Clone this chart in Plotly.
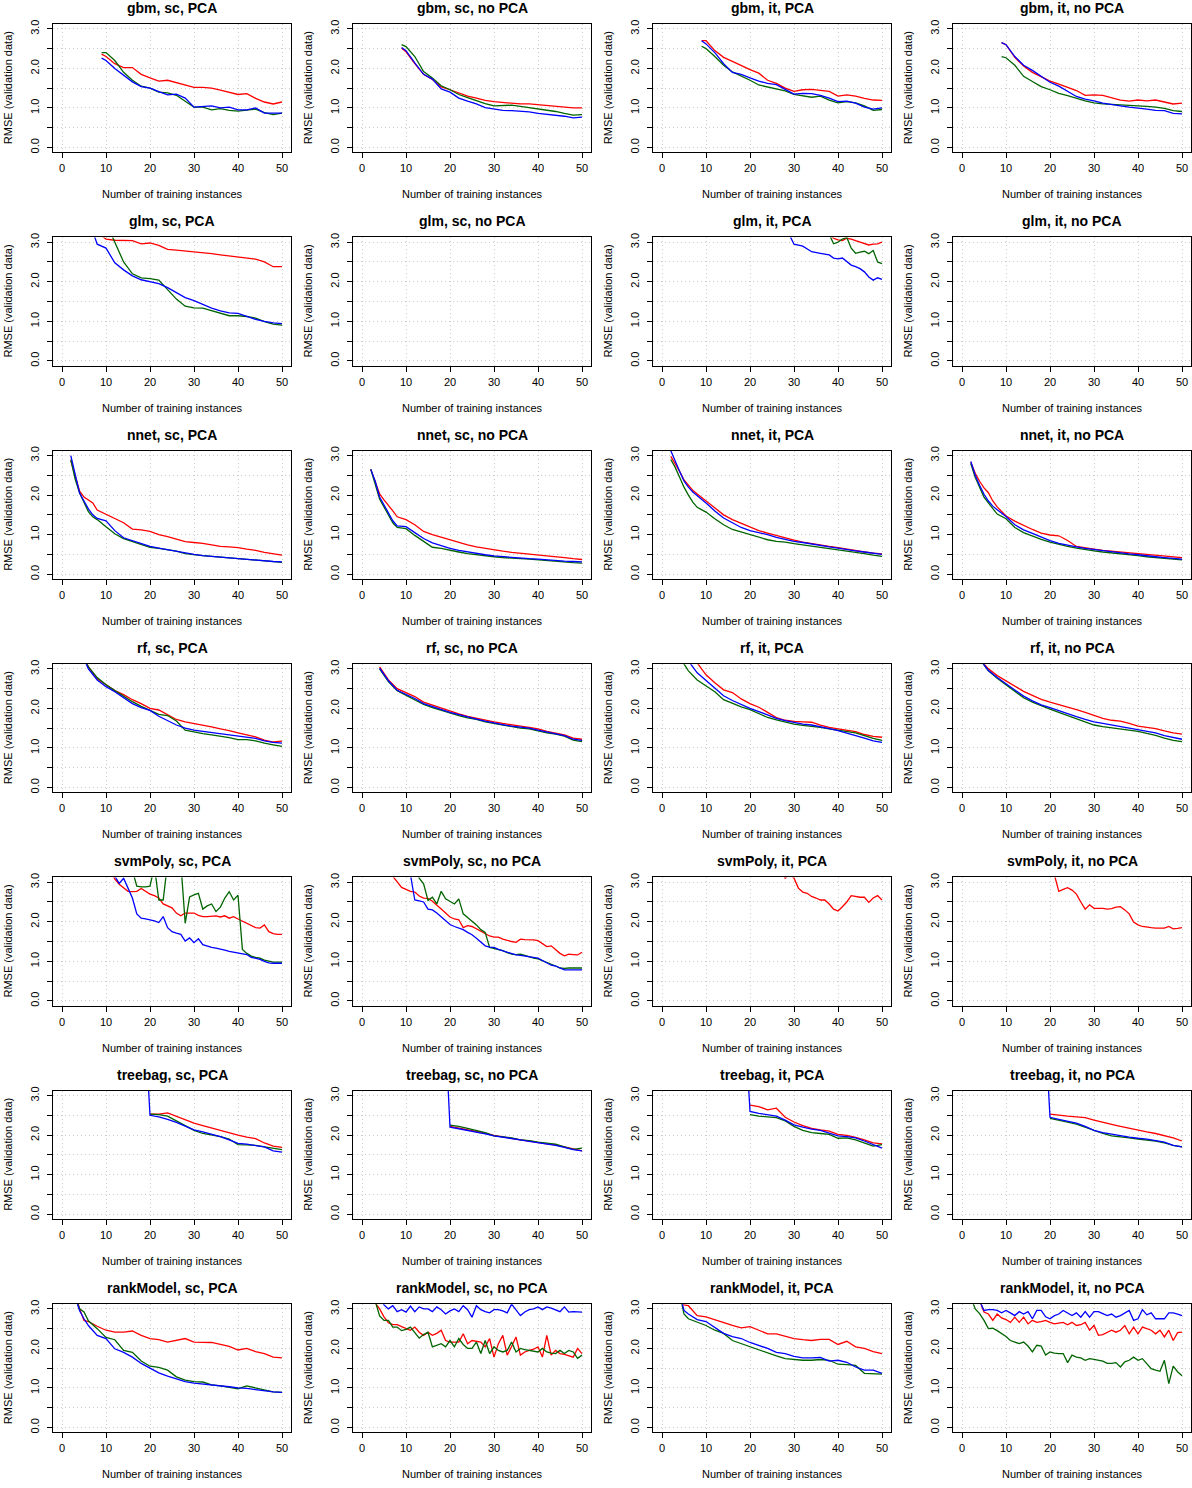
import plotly.graph_objects as go

W, H = 1192, 1488
RED, GREEN, BLUE = '#FF0000', '#006400', '#0000FF'
FONT = 'Liberation Sans, Arial, Helvetica, sans-serif'

# ---- gbm ----
gbm_x = [9, 10, 12, 14, 16, 18, 20, 22, 24, 26, 28, 30, 32, 34, 36, 38, 40, 42, 44, 46, 48, 50]
gbm_sc_pca_red = [2.36, 2.3, 2.12, 2.02, 2.02, 1.85, 1.76, 1.68, 1.7, 1.64, 1.57, 1.52, 1.52, 1.5, 1.45, 1.4, 1.34, 1.36, 1.24, 1.15, 1.1, 1.15]
gbm_sc_pca_green = [2.4, 2.4, 2.2, 1.9, 1.7, 1.55, 1.5, 1.4, 1.38, 1.32, 1.17, 1.02, 1.02, 0.95, 0.98, 0.94, 0.92, 0.95, 0.97, 0.88, 0.83, 0.87]
gbm_sc_pca_blue = [2.26, 2.2, 2.0, 1.82, 1.66, 1.54, 1.5, 1.41, 1.33, 1.35, 1.25, 1.02, 1.04, 1.05, 1.0, 1.02, 0.95, 0.95, 1.0, 0.87, 0.87, 0.87]
gbm_sc_nopca_red = [2.51, 2.42, 2.12, 1.85, 1.72, 1.53, 1.46, 1.38, 1.3, 1.25, 1.19, 1.16, 1.14, 1.12, 1.1, 1.1, 1.08, 1.06, 1.04, 1.02, 1.0, 1.0]
gbm_sc_nopca_green = [2.6, 2.55, 2.3, 1.92, 1.76, 1.56, 1.46, 1.34, 1.26, 1.18, 1.11, 1.05, 1.06, 1.07, 1.04, 1.01, 0.98, 0.94, 0.91, 0.86, 0.82, 0.83]
gbm_sc_nopca_blue = [2.53, 2.45, 2.14, 1.85, 1.73, 1.48, 1.4, 1.25, 1.17, 1.1, 1.01, 0.97, 0.94, 0.93, 0.92, 0.9, 0.86, 0.84, 0.81, 0.79, 0.75, 0.77]
gbm_it_pca_red = [2.7, 2.7, 2.45, 2.28, 2.18, 2.07, 1.97, 1.88, 1.7, 1.62, 1.5, 1.42, 1.46, 1.47, 1.44, 1.42, 1.3, 1.33, 1.3, 1.24, 1.2, 1.19]
gbm_it_pca_green = [2.56, 2.5, 2.3, 2.08, 1.91, 1.81, 1.7, 1.58, 1.53, 1.47, 1.43, 1.34, 1.31, 1.27, 1.3, 1.2, 1.13, 1.16, 1.13, 1.05, 0.94, 0.96]
gbm_it_pca_blue = [2.7, 2.62, 2.4, 2.12, 1.9, 1.85, 1.76, 1.68, 1.62, 1.59, 1.47, 1.35, 1.37, 1.36, 1.32, 1.25, 1.16, 1.17, 1.12, 1.02, 0.97, 1.0]
gbm_it_nopca_red = [2.65, 2.6, 2.28, 2.06, 1.9, 1.78, 1.68, 1.6, 1.51, 1.44, 1.32, 1.33, 1.32, 1.25, 1.2, 1.17, 1.2, 1.18, 1.2, 1.15, 1.1, 1.12]
gbm_it_nopca_green = [2.3, 2.27, 2.08, 1.8, 1.67, 1.54, 1.46, 1.37, 1.31, 1.24, 1.18, 1.13, 1.1, 1.09, 1.08, 1.07, 1.06, 1.04, 1.02, 0.99, 0.93, 0.91]
gbm_it_nopca_blue = [2.65, 2.6, 2.3, 2.08, 1.95, 1.79, 1.65, 1.55, 1.42, 1.29, 1.22, 1.18, 1.12, 1.08, 1.05, 1.02, 1.0, 0.97, 0.94, 0.93, 0.86, 0.85]

# ---- glm ----
glm_sc_x = [6, 8, 10, 12, 14, 16, 18, 20, 22, 24, 26, 28, 30, 32, 34, 36, 38, 40, 42, 44, 46, 48, 50]
glm_sc_pca_red = [3.4, 3.25, 3.08, 3.05, 3.05, 3.04, 2.96, 2.98, 2.92, 2.82, 2.8, 2.78, 2.76, 2.73, 2.71, 2.68, 2.65, 2.63, 2.6, 2.57, 2.5, 2.38, 2.38]
glm_sc_pca_green = [4.5, 4.0, 3.5, 3.0, 2.5, 2.2, 2.1, 2.08, 2.04, 1.8, 1.56, 1.38, 1.34, 1.33, 1.27, 1.2, 1.14, 1.14, 1.12, 1.08, 0.99, 0.93, 0.9]
glm_sc_pca_blue = [3.6, 2.95, 2.85, 2.48, 2.3, 2.15, 2.05, 2.0, 1.95, 1.85, 1.72, 1.6, 1.52, 1.42, 1.33, 1.26, 1.21, 1.2, 1.12, 1.05, 1.0, 0.96, 0.94]
glm_it_x = [28, 30, 32, 34, 36, 38, 39, 40, 41, 42, 43, 44, 45, 46, 47, 48, 49, 50]
glm_it_pca_red = [4.2, 4.0, 3.8, 3.6, 3.4, 3.2, 3.1, 3.06, 3.04, 3.1, 3.08, 3.04, 3.0, 2.97, 2.93, 2.95, 2.96, 3.0]
glm_it_pca_green = [4.2, 4.0, 3.8, 3.6, 3.4, 3.2, 2.96, 3.0, 3.08, 3.12, 2.85, 2.72, 2.75, 2.77, 2.71, 2.79, 2.5, 2.46]
glm_it_pca_blue = [3.4, 2.95, 2.9, 2.76, 2.72, 2.68, 2.6, 2.58, 2.6, 2.5, 2.42, 2.38, 2.33, 2.25, 2.12, 2.04, 2.1, 2.06]
# nothing of glm "no PCA" falls inside the 0-3 window
glm_nopca_x = []
glm_nopca_y = []

# ---- nnet ----
nnet_x = [2, 3, 4, 5, 6, 7, 8, 10, 12, 14, 16, 18, 20, 22, 24, 26, 28, 30, 32, 34, 36, 38, 40, 42, 44, 46, 48, 50]
nnet_sc_pca_red = [2.87, 2.49, 2.1, 1.95, 1.87, 1.8, 1.62, 1.52, 1.42, 1.3, 1.14, 1.12, 1.08, 1.0, 0.95, 0.88, 0.82, 0.8, 0.78, 0.74, 0.7, 0.69, 0.67, 0.63, 0.6, 0.55, 0.52, 0.48]
nnet_sc_pca_green = [2.9, 2.4, 2.05, 1.8, 1.58, 1.45, 1.38, 1.2, 1.02, 0.9, 0.82, 0.75, 0.68, 0.65, 0.61, 0.58, 0.52, 0.49, 0.47, 0.45, 0.43, 0.41, 0.39, 0.37, 0.35, 0.33, 0.31, 0.3]
nnet_sc_pca_blue = [3.0, 2.5, 2.05, 1.85, 1.65, 1.5, 1.41, 1.35, 1.1, 0.92, 0.84, 0.78, 0.7, 0.66, 0.62, 0.58, 0.53, 0.5, 0.47, 0.45, 0.43, 0.41, 0.39, 0.37, 0.35, 0.34, 0.32, 0.31]
nnet_sc_nopca_red = [2.65, 2.35, 2.03, 1.88, 1.75, 1.6, 1.45, 1.38, 1.25, 1.08, 1.0, 0.93, 0.86, 0.8, 0.74, 0.69, 0.65, 0.61, 0.58, 0.55, 0.53, 0.51, 0.49, 0.46, 0.44, 0.42, 0.39, 0.37]
nnet_sc_nopca_green = [2.65, 2.3, 1.9, 1.7, 1.5, 1.3, 1.18, 1.15, 0.98, 0.82, 0.68, 0.65, 0.6, 0.56, 0.52, 0.49, 0.46, 0.44, 0.42, 0.4, 0.39, 0.38, 0.36, 0.34, 0.32, 0.3, 0.29, 0.28]
nnet_sc_nopca_blue = [2.65, 2.35, 1.95, 1.75, 1.55, 1.35, 1.22, 1.2, 1.05, 0.9, 0.79, 0.71, 0.65, 0.6, 0.56, 0.52, 0.49, 0.46, 0.44, 0.42, 0.4, 0.39, 0.38, 0.36, 0.34, 0.33, 0.32, 0.31]
nnet_it_pca_red = [2.98, 2.8, 2.6, 2.38, 2.25, 2.12, 2.03, 1.86, 1.68, 1.5, 1.38, 1.28, 1.18, 1.1, 1.04, 0.98, 0.91, 0.86, 0.81, 0.77, 0.73, 0.7, 0.67, 0.63, 0.6, 0.56, 0.53, 0.51]
nnet_it_pca_green = [2.9, 2.7, 2.45, 2.2, 2.0, 1.82, 1.69, 1.57, 1.4, 1.25, 1.13, 1.06, 0.99, 0.93, 0.87, 0.83, 0.81, 0.77, 0.74, 0.71, 0.68, 0.65, 0.62, 0.59, 0.56, 0.52, 0.48, 0.45]
nnet_it_pca_blue = [3.12, 2.85, 2.6, 2.36, 2.2, 2.08, 1.99, 1.8, 1.6, 1.42, 1.3, 1.18, 1.1, 1.05, 1.0, 0.93, 0.88, 0.83, 0.8, 0.76, 0.72, 0.69, 0.66, 0.62, 0.59, 0.56, 0.53, 0.5]
nnet_it_nopca_red = [2.83, 2.55, 2.35, 2.18, 2.06, 1.85, 1.7, 1.47, 1.34, 1.23, 1.13, 1.04, 0.99, 0.97, 0.85, 0.7, 0.66, 0.63, 0.6, 0.58, 0.56, 0.53, 0.51, 0.49, 0.48, 0.46, 0.44, 0.42]
nnet_it_nopca_green = [2.8, 2.45, 2.2, 1.95, 1.8, 1.65, 1.52, 1.4, 1.18, 1.05, 0.96, 0.88, 0.81, 0.75, 0.7, 0.66, 0.62, 0.59, 0.56, 0.54, 0.52, 0.49, 0.47, 0.44, 0.42, 0.4, 0.38, 0.36]
nnet_it_nopca_blue = [2.85, 2.5, 2.25, 2.02, 1.85, 1.72, 1.63, 1.46, 1.25, 1.12, 1.03, 0.93, 0.85, 0.78, 0.73, 0.69, 0.65, 0.62, 0.59, 0.56, 0.54, 0.51, 0.49, 0.46, 0.44, 0.42, 0.4, 0.38]

# ---- rf ----
rf_x = [4, 6, 8, 10, 12, 14, 16, 18, 20, 22, 24, 26, 28, 30, 32, 34, 36, 38, 40, 42, 44, 46, 48, 50]
rf_sc_pca_red = [3.5, 3.05, 2.75, 2.6, 2.45, 2.35, 2.22, 2.12, 2.0, 1.96, 1.85, 1.72, 1.66, 1.62, 1.58, 1.53, 1.48, 1.44, 1.38, 1.33, 1.28, 1.2, 1.15, 1.17]
rf_sc_pca_green = [3.5, 3.05, 2.78, 2.6, 2.45, 2.3, 2.17, 2.05, 1.95, 1.85, 1.82, 1.68, 1.45, 1.4, 1.36, 1.33, 1.3, 1.26, 1.21, 1.21, 1.18, 1.12, 1.08, 1.04]
rf_sc_pca_blue = [3.5, 3.0, 2.72, 2.55, 2.42, 2.28, 2.12, 2.02, 1.95, 1.8, 1.68, 1.58, 1.5, 1.45, 1.42, 1.39, 1.36, 1.33, 1.29, 1.27, 1.24, 1.18, 1.14, 1.12]
rf_sc_nopca_red = [3.05, 2.72, 2.5, 2.4, 2.3, 2.16, 2.08, 2.02, 1.93, 1.86, 1.8, 1.75, 1.7, 1.66, 1.62, 1.58, 1.55, 1.52, 1.48, 1.42, 1.38, 1.33, 1.25, 1.22]
rf_sc_nopca_green = [3.0, 2.68, 2.45, 2.34, 2.22, 2.1, 2.02, 1.95, 1.88, 1.82, 1.76, 1.72, 1.66, 1.62, 1.58, 1.53, 1.5, 1.48, 1.43, 1.38, 1.35, 1.3, 1.2, 1.16]
rf_sc_nopca_blue = [3.02, 2.7, 2.46, 2.36, 2.25, 2.12, 2.04, 1.97, 1.9, 1.84, 1.78, 1.73, 1.68, 1.63, 1.59, 1.55, 1.52, 1.5, 1.45, 1.4, 1.36, 1.31, 1.22, 1.19]
rf_it_pca_red = [4.2, 3.6, 3.15, 2.85, 2.65, 2.47, 2.4, 2.24, 2.12, 2.03, 1.9, 1.77, 1.7, 1.67, 1.66, 1.65, 1.58, 1.52, 1.48, 1.45, 1.41, 1.34, 1.29, 1.27]
rf_it_pca_green = [3.3, 2.95, 2.72, 2.57, 2.42, 2.22, 2.12, 2.04, 1.97, 1.87, 1.77, 1.71, 1.65, 1.6, 1.57, 1.55, 1.52, 1.48, 1.45, 1.41, 1.38, 1.31, 1.24, 1.19]
rf_it_pca_blue = [3.7, 3.2, 2.9, 2.7, 2.5, 2.32, 2.2, 2.09, 2.0, 1.92, 1.83, 1.75, 1.69, 1.64, 1.6, 1.58, 1.54, 1.49, 1.44, 1.38, 1.32, 1.25, 1.18, 1.14]
rf_it_nopca_red = [3.25, 3.0, 2.83, 2.7, 2.56, 2.43, 2.33, 2.23, 2.16, 2.1, 2.03, 1.97, 1.9, 1.83, 1.75, 1.7, 1.68, 1.62, 1.55, 1.52, 1.49, 1.43, 1.38, 1.35]
rf_it_nopca_green = [3.25, 2.95, 2.76, 2.6, 2.44, 2.27, 2.16, 2.06, 1.98, 1.9, 1.82, 1.72, 1.65, 1.58, 1.54, 1.51, 1.49, 1.46, 1.42, 1.37, 1.32, 1.25, 1.19, 1.16]
rf_it_nopca_blue = [3.25, 2.96, 2.78, 2.63, 2.48, 2.31, 2.19, 2.09, 2.02, 1.94, 1.87, 1.79, 1.72, 1.66, 1.62, 1.58, 1.55, 1.5, 1.46, 1.42, 1.38, 1.31, 1.26, 1.22]

# ---- svmPoly ----
svm_sc_pca_x = list(range(11, 51))
svm_sc_pca_red = [3.3, 3.08, 2.95, 2.85, 2.77, 2.76, 2.77, 2.84, 2.76, 2.7, 2.66, 2.6, 2.45, 2.4, 2.35, 2.22, 2.15, 2.22, 2.22, 2.22,
                  2.16, 2.13, 2.13, 2.14, 2.15, 2.12, 2.15, 2.09, 2.13, 2.07, 2.02, 1.97, 1.9, 1.85, 1.84, 1.92, 1.75, 1.7, 1.68, 1.68]
svm_sc_pca_green = [4.5, 4.2, 4.0, 3.8, 3.6, 3.3, 2.9, 2.88, 2.88, 2.9, 3.4, 2.55, 2.55, 3.5, 3.6, 3.6, 3.5, 1.96, 2.63, 2.68,
                    2.72, 2.32, 2.4, 2.45, 2.26, 2.37, 2.6, 2.76, 2.55, 2.67, 1.3, 1.2, 1.13, 1.1, 1.08, 1.03, 1.0, 0.98, 0.98, 0.98]
svm_sc_pca_blue = [3.6, 3.15, 2.97, 3.1, 2.85, 2.6, 2.2, 2.09, 2.07, 2.05, 2.02, 1.98, 2.13, 1.85, 1.75, 1.71, 1.68, 1.51, 1.59, 1.47,
                   1.57, 1.42, 1.38, 1.35, 1.33, 1.31, 1.28, 1.25, 1.23, 1.22, 1.2, 1.17, 1.1, 1.08, 1.05, 1.0, 0.96, 0.95, 0.95, 0.95]
svm_sc_nopca_x = list(range(7, 51))
svm_sc_nopca_red = [3.15, 3.0, 2.87, 2.82, 2.77, 2.75, 2.65, 2.6, 2.59, 2.52, 2.43, 2.32, 2.22, 2.12, 2.07, 2.05, 1.85, 1.9, 1.88, 1.82, 1.75, 1.69,
                    1.64, 1.61, 1.61, 1.56, 1.52, 1.5, 1.48, 1.56, 1.55, 1.55, 1.54, 1.52, 1.45, 1.37, 1.39, 1.3, 1.2, 1.14, 1.18, 1.17, 1.16, 1.23]
svm_sc_nopca_green = [5.0, 4.7, 4.4, 4.1, 3.8, 3.4, 3.1, 2.96, 2.54, 2.62, 2.45, 2.77, 2.58, 2.52, 2.45, 2.58, 2.2, 2.11, 2.02, 1.92, 1.8, 1.73,
                      1.35, 1.32, 1.3, 1.27, 1.22, 1.18, 1.17, 1.18, 1.15, 1.11, 1.08, 1.06, 1.02, 0.97, 0.92, 0.88, 0.83, 0.82, 0.83, 0.83, 0.83, 0.83]
svm_sc_nopca_blue = [4.5, 4.2, 3.9, 3.6, 3.2, 2.55, 2.53, 2.5, 2.32, 2.3, 2.22, 2.12, 2.02, 1.93, 1.88, 1.84, 1.8, 1.73, 1.67, 1.58, 1.48, 1.39,
                     1.36, 1.35, 1.3, 1.26, 1.23, 1.2, 1.16, 1.15, 1.13, 1.11, 1.1, 1.08, 1.02, 0.95, 0.9, 0.88, 0.82, 0.78, 0.78, 0.78, 0.78, 0.78]
svm_it_pca_x = list(range(27, 51))
svm_it_pca_red = [3.3, 3.1, 3.2, 3.1, 2.85, 2.75, 2.72, 2.64, 2.6, 2.55, 2.55, 2.45, 2.32, 2.27, 2.38, 2.5, 2.66, 2.64, 2.62, 2.62, 2.49, 2.6, 2.66, 2.55]
svm_it_nopca_x = list(range(20, 51))
svm_it_nopca_red = [3.6, 3.2, 2.77, 2.82, 2.86, 2.8, 2.7, 2.5, 2.32, 2.43, 2.34, 2.34, 2.34, 2.32, 2.33, 2.37, 2.38, 2.3, 2.2, 1.99, 1.92,
                    1.88, 1.86, 1.85, 1.84, 1.84, 1.84, 1.88, 1.82, 1.83, 1.85]

# ---- treebag ----
tb_x = [19, 20, 22, 24, 26, 28, 30, 32, 34, 36, 38, 40, 42, 44, 46, 48, 50]
tb_sc_pca_red = [None, 2.53, 2.53, 2.56, 2.47, 2.38, 2.3, 2.24, 2.18, 2.11, 2.05, 2.0, 1.95, 1.91, 1.8, 1.72, 1.69]
tb_sc_pca_green = [None, 2.53, 2.52, 2.48, 2.36, 2.22, 2.12, 2.04, 2.0, 1.96, 1.9, 1.76, 1.75, 1.74, 1.7, 1.66, 1.63]
tb_sc_pca_blue = [4.5, 2.5, 2.46, 2.4, 2.32, 2.22, 2.13, 2.08, 2.02, 1.96, 1.88, 1.79, 1.77, 1.74, 1.7, 1.6, 1.57]
tb_sc_nopca_red = [None, 2.22, 2.18, 2.13, 2.1, 2.05, 1.99, 1.95, 1.92, 1.88, 1.85, 1.81, 1.78, 1.75, 1.7, 1.64, 1.6]
tb_sc_nopca_green = [None, 2.25, 2.22, 2.17, 2.12, 2.06, 1.98, 1.96, 1.93, 1.88, 1.86, 1.82, 1.79, 1.77, 1.7, 1.64, 1.67]
tb_sc_nopca_blue = [4.5, 2.2, 2.16, 2.12, 2.08, 2.03, 1.98, 1.95, 1.92, 1.88, 1.84, 1.81, 1.78, 1.74, 1.69, 1.63, 1.6]
tb_it_pca_red = [None, 2.76, 2.72, 2.64, 2.68, 2.45, 2.33, 2.24, 2.17, 2.13, 2.1, 2.02, 1.99, 1.94, 1.88, 1.8, 1.78]
tb_it_pca_green = [None, 2.52, 2.48, 2.46, 2.44, 2.36, 2.22, 2.12, 2.06, 2.04, 2.02, 1.92, 1.93, 1.88, 1.8, 1.72, 1.76]
tb_it_pca_blue = [4.5, 2.6, 2.55, 2.52, 2.48, 2.38, 2.26, 2.2, 2.15, 2.12, 2.04, 1.98, 1.96, 1.93, 1.85, 1.76, 1.67]
tb_it_nopca_red = [None, 2.53, 2.5, 2.48, 2.46, 2.44, 2.38, 2.32, 2.27, 2.22, 2.17, 2.12, 2.08, 2.04, 1.98, 1.93, 1.85]
tb_it_nopca_green = [None, 2.42, 2.38, 2.33, 2.28, 2.2, 2.1, 2.04, 1.98, 1.96, 1.93, 1.9, 1.88, 1.85, 1.8, 1.74, 1.7]
tb_it_nopca_blue = [4.5, 2.45, 2.4, 2.35, 2.3, 2.22, 2.12, 2.06, 2.02, 1.99, 1.95, 1.92, 1.9, 1.86, 1.82, 1.74, 1.7]

# ---- rankModel ----
rm_sc_pca_x = [3, 4, 5, 6, 8, 10, 12, 14, 16, 18, 20, 22, 24, 26, 28, 30, 32, 34, 36, 38, 40, 42, 44, 46, 48, 50]
rm_sc_pca_red = [3.4, 3.0, 2.71, 2.68, 2.56, 2.46, 2.41, 2.41, 2.44, 2.33, 2.25, 2.22, 2.16, 2.2, 2.25, 2.16, 2.15, 2.15, 2.1, 2.05, 1.96, 2.0, 1.92, 1.87, 1.78, 1.76]
rm_sc_pca_green = [3.3, 3.0, 2.92, 2.7, 2.5, 2.28, 2.22, 1.95, 1.9, 1.68, 1.55, 1.52, 1.45, 1.28, 1.2, 1.16, 1.15, 1.08, 1.05, 1.02, 0.98, 1.05, 1.0, 0.95, 0.9, 0.89]
rm_sc_pca_blue = [3.3, 2.95, 2.75, 2.58, 2.33, 2.25, 1.99, 1.9, 1.78, 1.62, 1.5, 1.38, 1.3, 1.22, 1.16, 1.12, 1.1, 1.07, 1.05, 1.03, 1.0, 0.99, 0.96, 0.93, 0.9, 0.89]
rm_sc_nopca_x = list(range(3, 51))
rm_sc_nopca_red = [3.15, 3.0, 2.8, 2.65, 2.6, 2.6, 2.55, 2.5, 2.46, 2.54, 2.41, 2.33, 2.41, 2.33, 2.38, 2.46, 2.2, 2.16, 2.16, 2.16, 2.37, 2.12, 2.2, 2.18,
                   2.16, 2.04, 2.25, 1.78, 2.12, 2.33, 1.83, 2.05, 2.29, 1.83, 1.91, 1.95, 1.98, 2.04, 1.78, 2.33, 1.83, 1.95, 1.87, 1.85, 1.82, 1.78, 2.0, 1.87]
rm_sc_nopca_green = [3.2, 2.82, 2.71, 2.71, 2.54, 2.54, 2.45, 2.48, 2.54, 2.41, 2.26, 2.35, 2.41, 2.04, 2.08, 2.12, 2.04, 2.2, 2.04, 2.25, 2.1, 2.0, 2.0, 2.16,
                     1.87, 2.2, 1.87, 2.04, 1.95, 1.91, 1.95, 2.16, 1.91, 2.0, 1.97, 1.95, 1.92, 1.91, 2.0, 1.91, 1.88, 1.87, 1.95, 1.87, 1.95, 1.91, 1.75, 1.83]
rm_sc_nopca_blue = [3.5, 3.3, 3.1, 3.0, 3.08, 2.93, 2.98, 2.92, 3.07, 2.93, 3.05, 3.0, 3.0, 2.93, 3.05, 2.98, 2.87, 2.95, 3.0, 2.93, 3.08, 2.98, 2.79, 3.08,
                    2.98, 2.93, 2.9, 2.98, 2.98, 2.95, 2.9, 3.12, 2.98, 2.83, 2.92, 2.98, 3.0, 3.05, 2.98, 3.05, 3.02, 2.98, 2.93, 3.05, 2.92, 2.93, 2.93, 2.92]
rm_it_pca_x = [4, 5, 6, 8, 10, 12, 14, 16, 18, 20, 22, 24, 26, 28, 30, 32, 34, 36, 38, 40, 42, 44, 46, 48, 50]
rm_it_pca_red = [3.4, 3.1, 3.08, 2.83, 2.8, 2.72, 2.65, 2.58, 2.52, 2.55, 2.46, 2.37, 2.37, 2.31, 2.25, 2.22, 2.2, 2.23, 2.23, 2.1, 2.18, 2.04, 2.0, 1.92, 1.87]
rm_it_pca_green = [3.4, 2.87, 2.75, 2.66, 2.58, 2.46, 2.38, 2.2, 2.12, 2.05, 1.95, 1.88, 1.81, 1.74, 1.72, 1.7, 1.7, 1.72, 1.7, 1.6, 1.59, 1.57, 1.37, 1.36, 1.35]
rm_it_pca_blue = [3.4, 2.96, 2.87, 2.73, 2.68, 2.52, 2.38, 2.3, 2.25, 2.15, 2.08, 2.0, 1.9, 1.87, 1.8, 1.76, 1.76, 1.77, 1.68, 1.7, 1.65, 1.53, 1.45, 1.45, 1.37]
rm_it_nopca_x = list(range(2, 51))
rm_it_nopca_red = [3.8, 3.5, 3.2, 2.92, 2.87, 2.71, 2.87, 2.77, 2.73, 2.66, 2.79, 2.66, 2.79, 2.62, 2.71, 2.66, 2.68, 2.71, 2.66, 2.62, 2.64, 2.66, 2.6, 2.66, 2.58,
                   2.6, 2.66, 2.46, 2.58, 2.33, 2.35, 2.4, 2.46, 2.41, 2.46, 2.58, 2.37, 2.54, 2.37, 2.54, 2.5, 2.46, 2.37, 2.46, 2.29, 2.46, 2.2, 2.4, 2.41]
rm_it_nopca_green = [3.3, 3.0, 2.88, 2.71, 2.5, 2.51, 2.45, 2.38, 2.3, 2.2, 2.15, 2.12, 2.16, 2.06, 1.91, 2.08, 2.06, 1.83, 1.91, 1.88, 1.87, 1.87, 1.64, 1.83, 1.78,
                     1.76, 1.7, 1.74, 1.72, 1.7, 1.68, 1.62, 1.62, 1.64, 1.53, 1.66, 1.7, 1.78, 1.7, 1.74, 1.62, 1.49, 1.45, 1.42, 1.7, 1.11, 1.55, 1.41, 1.31]
rm_it_nopca_blue = [3.8, 3.5, 3.2, 2.96, 2.98, 2.98, 2.96, 2.9, 2.96, 2.9, 2.83, 2.93, 2.87, 2.93, 2.75, 2.96, 2.96, 2.8, 2.75, 2.83, 2.87, 2.96, 2.9, 2.83, 2.9,
                    2.79, 2.93, 2.79, 2.93, 2.93, 2.88, 2.83, 2.87, 2.79, 2.83, 2.9, 2.96, 2.71, 2.75, 2.98, 2.85, 2.9, 2.75, 2.75, 2.75, 2.9, 2.9, 2.87, 2.83]

x_ticks = [0, 10, 20, 30, 40, 50]
y_ticks = [0, 0.5, 1, 1.5, 2, 2.5, 3]
y_tick_text = ['0.0', '', '1.0', '', '2.0', '', '3.0']


def trio(x, red, green, blue):
    return [(x, red, RED), (x, green, GREEN), (x, blue, BLUE)]


panels = [
    ('gbm, sc, PCA', trio(gbm_x, gbm_sc_pca_red, gbm_sc_pca_green, gbm_sc_pca_blue)),
    ('gbm, sc, no PCA', trio(gbm_x, gbm_sc_nopca_red, gbm_sc_nopca_green, gbm_sc_nopca_blue)),
    ('gbm, it, PCA', trio(gbm_x, gbm_it_pca_red, gbm_it_pca_green, gbm_it_pca_blue)),
    ('gbm, it, no PCA', trio(gbm_x, gbm_it_nopca_red, gbm_it_nopca_green, gbm_it_nopca_blue)),
    ('glm, sc, PCA', trio(glm_sc_x, glm_sc_pca_red, glm_sc_pca_green, glm_sc_pca_blue)),
    ('glm, sc, no PCA', [(glm_nopca_x, glm_nopca_y, RED)]),
    ('glm, it, PCA', trio(glm_it_x, glm_it_pca_red, glm_it_pca_green, glm_it_pca_blue)),
    ('glm, it, no PCA', [(glm_nopca_x, glm_nopca_y, RED)]),
    ('nnet, sc, PCA', trio(nnet_x, nnet_sc_pca_red, nnet_sc_pca_green, nnet_sc_pca_blue)),
    ('nnet, sc, no PCA', trio(nnet_x, nnet_sc_nopca_red, nnet_sc_nopca_green, nnet_sc_nopca_blue)),
    ('nnet, it, PCA', trio(nnet_x, nnet_it_pca_red, nnet_it_pca_green, nnet_it_pca_blue)),
    ('nnet, it, no PCA', trio(nnet_x, nnet_it_nopca_red, nnet_it_nopca_green, nnet_it_nopca_blue)),
    ('rf, sc, PCA', trio(rf_x, rf_sc_pca_red, rf_sc_pca_green, rf_sc_pca_blue)),
    ('rf, sc, no PCA', trio(rf_x, rf_sc_nopca_red, rf_sc_nopca_green, rf_sc_nopca_blue)),
    ('rf, it, PCA', trio(rf_x, rf_it_pca_red, rf_it_pca_green, rf_it_pca_blue)),
    ('rf, it, no PCA', trio(rf_x, rf_it_nopca_red, rf_it_nopca_green, rf_it_nopca_blue)),
    ('svmPoly, sc, PCA', trio(svm_sc_pca_x, svm_sc_pca_red, svm_sc_pca_green, svm_sc_pca_blue)),
    ('svmPoly, sc, no PCA', trio(svm_sc_nopca_x, svm_sc_nopca_red, svm_sc_nopca_green, svm_sc_nopca_blue)),
    ('svmPoly, it, PCA', [(svm_it_pca_x, svm_it_pca_red, RED)]),
    ('svmPoly, it, no PCA', [(svm_it_nopca_x, svm_it_nopca_red, RED)]),
    ('treebag, sc, PCA', trio(tb_x, tb_sc_pca_red, tb_sc_pca_green, tb_sc_pca_blue)),
    ('treebag, sc, no PCA', trio(tb_x, tb_sc_nopca_red, tb_sc_nopca_green, tb_sc_nopca_blue)),
    ('treebag, it, PCA', trio(tb_x, tb_it_pca_red, tb_it_pca_green, tb_it_pca_blue)),
    ('treebag, it, no PCA', trio(tb_x, tb_it_nopca_red, tb_it_nopca_green, tb_it_nopca_blue)),
    ('rankModel, sc, PCA', trio(rm_sc_pca_x, rm_sc_pca_red, rm_sc_pca_green, rm_sc_pca_blue)),
    ('rankModel, sc, no PCA', trio(rm_sc_nopca_x, rm_sc_nopca_red, rm_sc_nopca_green, rm_sc_nopca_blue)),
    ('rankModel, it, PCA', trio(rm_it_pca_x, rm_it_pca_red, rm_it_pca_green, rm_it_pca_blue)),
    ('rankModel, it, no PCA', trio(rm_it_nopca_x, rm_it_nopca_red, rm_it_nopca_green, rm_it_nopca_blue)),
]

# panel geometry in pixels
ROW_H = 214.2
COL_W = 300
BOX_L, BOX_R = 53.2, 290.8
BOX_T, BOX_B = 19.2, 147.8

fig = go.Figure()
layout = {}
annotations = []

for i, (title, lines) in enumerate(panels):
    r, c = divmod(i, 4)
    n = '' if i == 0 else str(i + 1)
    for xs, ys, col in lines:
        fig.add_trace(go.Scatter(x=xs, y=ys, mode='lines',
                                 line=dict(color=col, width=1.3),
                                 xaxis='x' + n, yaxis='y' + n,
                                 showlegend=False, hoverinfo='skip'))

    left, right = BOX_L + COL_W * c, BOX_R + COL_W * c
    top, bottom = BOX_T + ROW_H * r, BOX_B + ROW_H * r
    common = dict(showline=True, mirror=True, linecolor='black', linewidth=1,
                  ticks='outside', ticklen=5, tickcolor='black', tickwidth=1,
                  showgrid=True, gridcolor='#cccccc', griddash='1px,3px', gridwidth=1,
                  zeroline=False, fixedrange=True,
                  tickfont=dict(family=FONT, size=11, color='black'))
    layout['xaxis' + n] = dict(common, domain=[left / W, right / W], anchor='y' + n,
                               range=[-2, 52], tickvals=x_ticks, ticklabelstandoff=1)
    layout['yaxis' + n] = dict(common, domain=[1 - bottom / H, 1 - top / H], anchor='x' + n,
                               range=[-0.12, 3.12], tickvals=y_ticks, ticktext=y_tick_text,
                               tickangle=-90, ticklabelstandoff=4)

    cx = (left + right) / 2
    annotations.append(dict(text='<b>' + title + '</b>', x=cx / W, y=1 - (3 + ROW_H * r) / H,
                            xref='paper', yref='paper', showarrow=False,
                            xanchor='center', yanchor='middle',
                            font=dict(family=FONT, size=14, color='black')))
    annotations.append(dict(text='Number of training instances', x=cx / W, y=1 - (190 + ROW_H * r) / H,
                            xref='paper', yref='paper', showarrow=False,
                            xanchor='center', yanchor='middle',
                            font=dict(family=FONT, size=11, color='black')))
    annotations.append(dict(text='RMSE (validation data)', x=(8 + COL_W * c) / W,
                            y=1 - ((top + bottom) / 2) / H,
                            xref='paper', yref='paper', showarrow=False, textangle=-90,
                            xanchor='center', yanchor='middle',
                            font=dict(family=FONT, size=11, color='black')))

fig.update_layout(**layout)
fig.update_layout(width=W, height=H, margin=dict(l=0, r=0, t=0, b=0),
                  paper_bgcolor='white', plot_bgcolor='white',
                  annotations=annotations, showlegend=False)

# page has a default 8px body margin; drop it so the figure fills the window
fig.write_html('out.html', config={'displayModeBar': False},
               post_script="document.body.style.margin='0';")
